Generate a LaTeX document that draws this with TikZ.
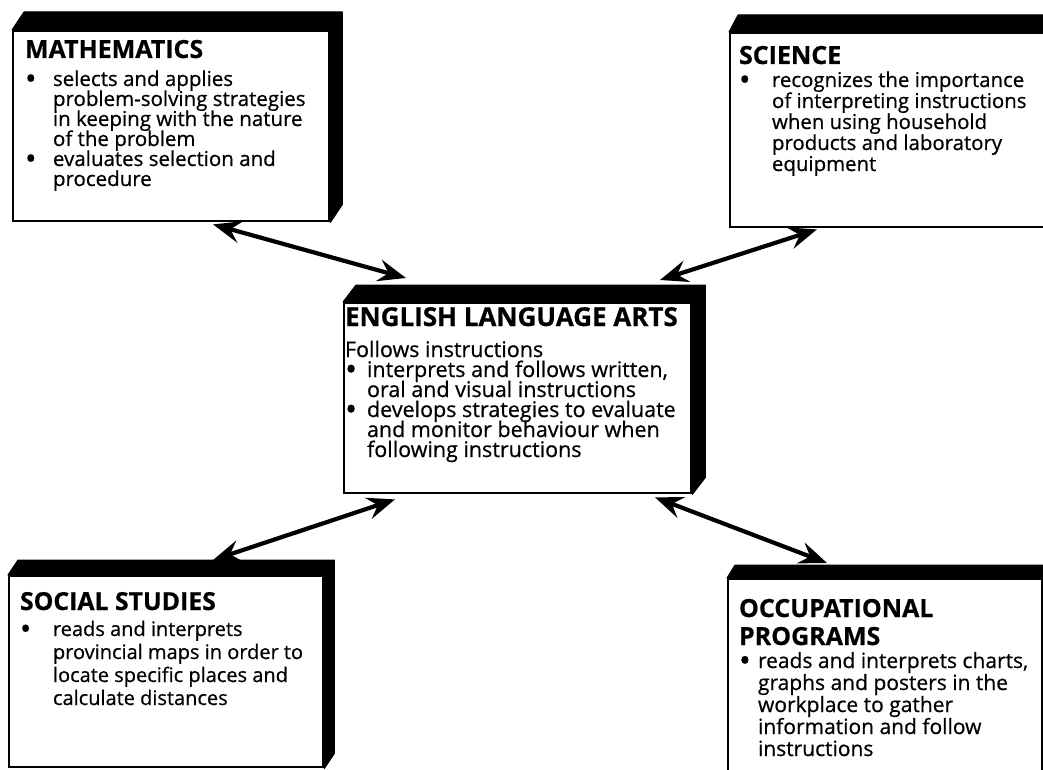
\documentclass[tikz,border=0pt]{standalone}
\usepackage{fontspec}
\setmainfont{Open Sans}[FakeBold=0.6]
\usetikzlibrary{arrows.meta,calc}

% hanging bullet item: bullet in the margin, wrapped lines indented
\newlength\hangw
\newcommand\bigdot{\smash{\raisebox{-0.16em}{\scalebox{1.5}{\textbullet}}}}
\newcommand\bulletline[1]{\par\hangindent=\hangw\hangafter=1\noindent\makebox[\hangw][l]{\bigdot}#1}
\newcommand\paneltitle[2]{{\fontsize{#1}{#1}\selectfont\bfseries #2\par}}
% fixed leading inside the panels, even where lines are tight
\newcommand\fixedleading{\lineskiplimit=-\maxdimen\lineskip=0pt\setlength\parindent{0pt}}

\begin{document}
\begin{tikzpicture}[x=1pt,y=-1pt,
  face/.style={draw=black, line width=2.4pt, fill=white, inner sep=0pt, anchor=north west},
  depth/.style={fill=black, draw=black, line width=1pt, line join=round},
  copy/.style={anchor=base west, inner sep=0pt, outer sep=0pt},
  link/.style={line width=4.2pt, {Stealth[length=28pt, width=22pt, inset=10pt]}-{Stealth[length=28pt, width=22pt, inset=10pt]}}
]
\clip (0,0) rectangle (1043,770);
\fill[white] (0,0) rectangle (1043,770);

% ---------- front faces of the panels ----------
\node[face, minimum width=316pt, minimum height=190pt] (math) at (12,30) {};
\node[face, minimum width=320pt, minimum height=194pt] (sci)  at (729,32) {};
\node[face, minimum width=347pt, minimum height=190pt] (ela)  at (343,302) {};
\node[face, minimum width=314pt, minimum height=191pt] (soc)  at (8,575) {};
\node[face, minimum width=314pt, minimum height=200pt] (occ)  at (727,578) {};

% ---------- solid black depth (top and right sides) ----------
\foreach \b/\dx/\dy in {math/12/-18, sci/9/-17, ela/13/-17, soc/10/-15, occ/8/-13}{
  \fill[depth] (\b.north west) -- ++(\dx,\dy)
    -- ($(\b.north east)+(\dx,\dy)$) -- ($(\b.south east)+(\dx,\dy)$)
    -- (\b.south east) -- (\b.north east) -- cycle;
}

% ---------- panel texts ----------
\node[copy] (mathtxt) at (25,58) {\parbox[t]{300pt}{%
  \fontsize{20.5}{20}\selectfont\setlength\hangw{28pt}\fixedleading
  \paneltitle{25}{MATHEMATICS}\vspace{8pt}%
  \bulletline{selects and applies\\problem-solving strategies\\in keeping with the nature\\of the problem}%
  \bulletline{evaluates selection and\\procedure}}};

\node[copy] (scitxt) at (739,64) {\parbox[t]{300pt}{%
  \fontsize{20.4}{21}\selectfont\setlength\hangw{33pt}\fixedleading
  \paneltitle{25}{SCIENCE}\vspace{2pt}%
  \bulletline{recognizes the importance\\of interpreting instructions\\when using household\\products and laboratory\\equipment}}};

\node[copy] (elatxt) at (345,326) {\parbox[t]{340pt}{%
  \fontsize{21.5}{20}\selectfont\setlength\hangw{22pt}\fixedleading
  \paneltitle{26}{ENGLISH LANGUAGE ARTS}\vspace{11pt}%
  \noindent Follows instructions
  \bulletline{interprets and follows written,\\oral and visual instructions}%
  \bulletline{develops strategies to evaluate\\and monitor behaviour when\\following instructions}}};

\node[copy] (soctxt) at (20,610) {\parbox[t]{300pt}{%
  \fontsize{20}{23}\selectfont\setlength\hangw{33pt}\fixedleading
  \paneltitle{24.8}{SOCIAL STUDIES}\vspace{3pt}%
  \bulletline{reads and interprets\\provincial maps in order to\\locate specific places and\\calculate distances}}};

\node[copy] (occtxt) at (739,617) {\parbox[t]{300pt}{%
  \fontsize{21}{22}\selectfont\setlength\hangw{19pt}\fixedleading
  {\fontsize{25}{28}\selectfont\bfseries OCCUPATIONAL\\PROGRAMS\par}\vspace{1pt}%
  \bulletline{reads and interprets charts,\\graphs and posters in the\\workplace to gather\\information and follow\\instructions}}};

% ---------- connector end points ----------
\coordinate (m1) at ($(math.south west)+(201,2)$);
\coordinate (m2) at ($(ela.north west)+(63,-24)$);
\coordinate (s1) at ($(sci.south west)+(88,1)$);
\coordinate (s2) at ($(ela.north west)+(317,-22)$);
\coordinate (o1) at ($(ela.south west)+(52,5)$);
\coordinate (o2) at ($(soc.north west)+(205,-15)$);
\coordinate (p1) at ($(ela.south west)+(312,3)$);
\coordinate (p2) at ($(occ.north west)+(100,-15)$);

% ---------- two-way arrows ----------
\draw[link] (m1) -- (m2);
\draw[link] (s1) -- (s2);
\draw[link] (o1) -- (o2);
\draw[link] (p1) -- (p2);
\end{tikzpicture}
\end{document}
